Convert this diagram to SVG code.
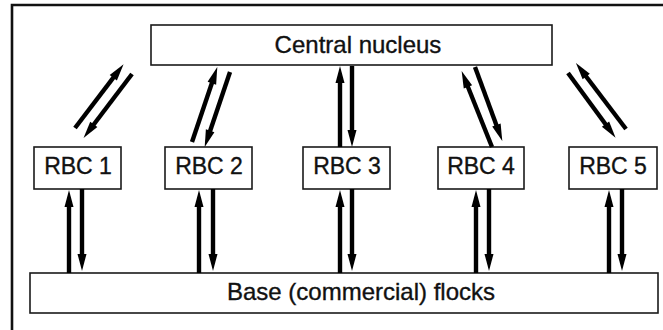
<svg xmlns="http://www.w3.org/2000/svg" width="663" height="330" viewBox="0 0 663 330">
<style>
.box{fill:#fff;stroke:#1a1a1a;stroke-width:1.6}
.lbl{font-family:"Liberation Sans",Arial,sans-serif;fill:#111;stroke:#111;stroke-width:0.35;text-anchor:middle}
.big{font-size:24px}
.rbc{font-size:23px}
.frame{fill:none;stroke:#111;stroke-width:2.6}
.arr{stroke:#000;stroke-width:4.4;fill:none;marker-end:url(#head)}
</style>
<defs>
<marker id="head" markerUnits="userSpaceOnUse" markerWidth="20" markerHeight="10" refX="2" refY="4.5" orient="auto" overflow="visible">
<path d="M0,0 L17,4.5 L0,9 Z" fill="#000"/>
</marker>
</defs>
<rect width="663" height="330" fill="#fff"/>
<path class="frame" d="M12,330 V5 H663"/>
<g id="central">
<rect class="box" x="151" y="25" width="401" height="40"/>
<text class="lbl big" x="358" y="53">Central nucleus</text>
</g>
<g id="rbc1">
<rect class="box" x="34" y="147" width="87" height="42"/>
<text class="lbl rbc" x="78" y="174">RBC 1</text>
</g>
<g id="rbc2">
<rect class="box" x="165" y="147" width="87" height="42"/>
<text class="lbl rbc" x="209" y="174">RBC 2</text>
</g>
<g id="rbc3">
<rect class="box" x="303" y="147" width="87" height="42"/>
<text class="lbl rbc" x="347" y="174">RBC 3</text>
</g>
<g id="rbc4">
<rect class="box" x="438" y="147" width="86" height="42"/>
<text class="lbl rbc" x="481" y="174">RBC 4</text>
</g>
<g id="rbc5">
<rect class="box" x="569" y="147" width="88" height="42"/>
<text class="lbl rbc" x="613" y="174">RBC 5</text>
</g>
<g id="base">
<rect class="box" x="30" y="273" width="628" height="40"/>
<text class="lbl big" x="361" y="300">Base (commercial) flocks</text>
</g>
<g id="connectors">
<line class="arr" x1="75" y1="128" x2="114.5" y2="76.1"/>
<line class="arr" x1="132" y1="74" x2="92.6" y2="126"/>
<line class="arr" x1="192" y1="142" x2="212.5" y2="81.3"/>
<line class="arr" x1="230" y1="72" x2="209.5" y2="132.7"/>
<line class="arr" x1="340" y1="147" x2="340" y2="81"/>
<line class="arr" x1="352" y1="66" x2="352" y2="132"/>
<line class="arr" x1="492" y1="147" x2="467.2" y2="85"/>
<line class="arr" x1="475" y1="67" x2="497.1" y2="126.9"/>
<line class="arr" x1="568" y1="73" x2="606.7" y2="125.7"/>
<line class="arr" x1="626" y1="129" x2="585" y2="75"/>
<line class="arr" x1="69" y1="273" x2="69" y2="205"/>
<line class="arr" x1="82" y1="189" x2="82" y2="256"/>
<line class="arr" x1="199" y1="273" x2="199" y2="205"/>
<line class="arr" x1="213" y1="189" x2="213" y2="256"/>
<line class="arr" x1="340" y1="273" x2="340" y2="205"/>
<line class="arr" x1="352" y1="189" x2="352" y2="256"/>
<line class="arr" x1="476" y1="273" x2="476" y2="205"/>
<line class="arr" x1="489" y1="189" x2="489" y2="256"/>
<line class="arr" x1="609" y1="273" x2="609" y2="205"/>
<line class="arr" x1="622" y1="189" x2="622" y2="256"/>
</g>
</svg>
